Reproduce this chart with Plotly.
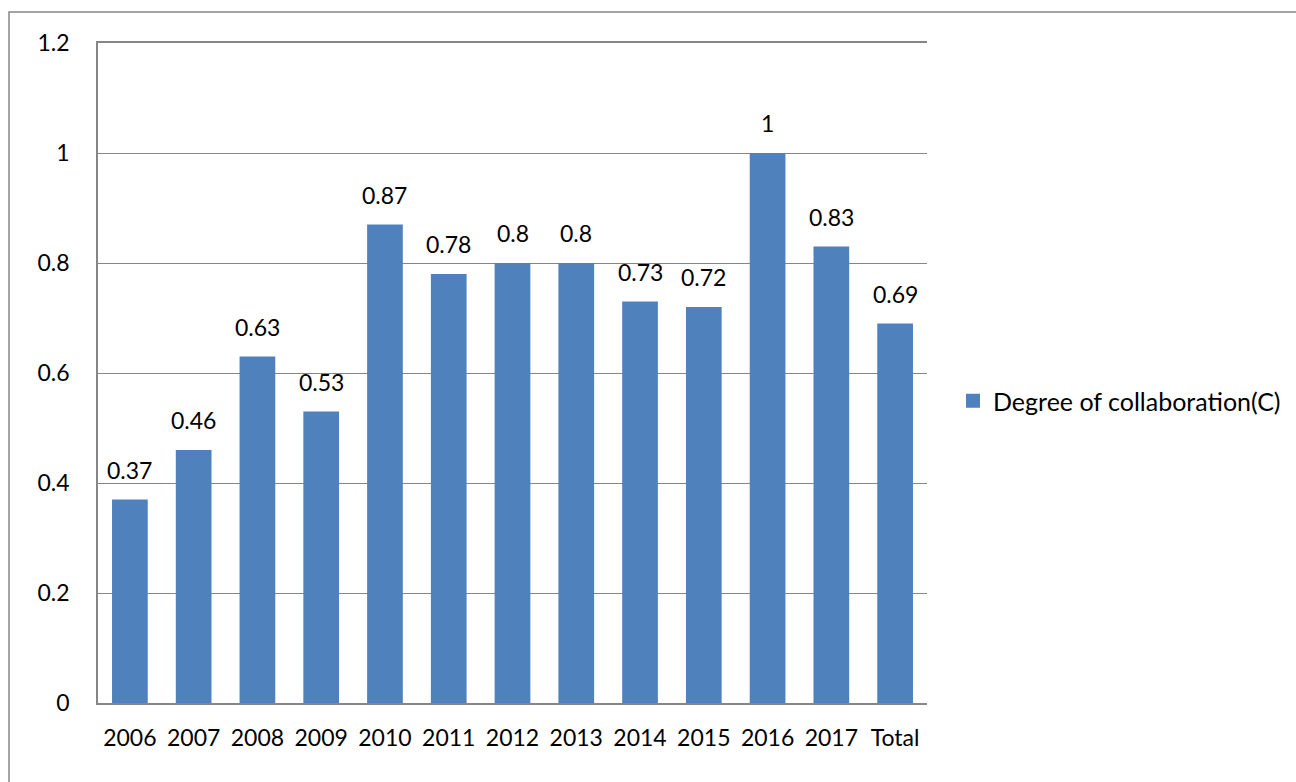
import plotly.graph_objects as go

categories = ["2006", "2007", "2008", "2009", "2010", "2011", "2012", "2013",
              "2014", "2015", "2016", "2017", "Total"]
values = [0.37, 0.46, 0.63, 0.53, 0.87, 0.78, 0.8, 0.8, 0.73, 0.72, 1, 0.83, 0.69]
series_name = "Degree of collaboration(C)"
y_ticks = [0, 0.2, 0.4, 0.6, 0.8, 1, 1.2]
y_tick_text = ["0", "0.2", "0.4", "0.6", "0.8", "1", "1.2"]

W, H = 1296, 782
L, R, T, B = 98, 927, 43, 703
FONT = "Lato"
FS = 23
GRAY = "#868686"
BAR = "#4F81BD"

fig = go.Figure()
fig.add_trace(go.Bar(
    x=categories, y=values, name=series_name, showlegend=False,
    legendgroup="c",
    marker=dict(color=BAR, line=dict(width=0)),
))
# legend entry with a larger square swatch
fig.add_trace(go.Scatter(
    x=[None], y=[None], mode="markers", name=series_name, legendgroup="c",
    marker=dict(symbol="square", size=14, color=BAR),
))

# value labels placed at the category index on the category axis
for i, v in enumerate(values):
    fig.add_annotation(x=i, y=v, text=f"{v:g}", showarrow=False,
                       yanchor="bottom", yshift=14,
                       font=dict(family=FONT, size=FS, color="#000000"))

pw, ph = R - L, B - T
def px(x):
    return (x - L) / pw
def py(y):
    return (B - y) / ph

# outer chart border
fig.add_shape(type="rect", xref="paper", yref="paper",
              x0=px(9), x1=px(1300), y0=py(790), y1=py(12),
              line=dict(color=GRAY, width=1.5), layer="below")

fig.update_layout(
    width=W, height=H,
    margin=dict(l=L, r=W - R, t=T, b=H - B, pad=0, autoexpand=False),
    plot_bgcolor="white", paper_bgcolor="white",
    bargap=0.44,
    font=dict(family=FONT, size=FS, color="#000000"),
    showlegend=True,
    legend=dict(x=px(953), y=py(401), xanchor="left", yanchor="middle",
                font=dict(family=FONT, size=25, color="#000000"),
                itemwidth=30, itemsizing="trace", bgcolor="rgba(0,0,0,0)"),
    xaxis=dict(type="category", categoryorder="array", categoryarray=categories,
               range=[-0.5, len(categories) - 0.5],
               showgrid=False, showline=True, mirror=True,
               linecolor=GRAY, linewidth=1.5,
               ticks="", ticklabelstandoff=14, tickfont=dict(size=FS)),
    yaxis=dict(range=[0, 1.2], tickvals=y_ticks, ticktext=y_tick_text,
               showgrid=True, gridcolor=GRAY, gridwidth=1.2,
               showline=True, linecolor=GRAY, linewidth=1.5,
               ticks="", ticklabelstandoff=22, zeroline=False,
               tickfont=dict(size=FS)),
)

fig.write_html("out.html")
